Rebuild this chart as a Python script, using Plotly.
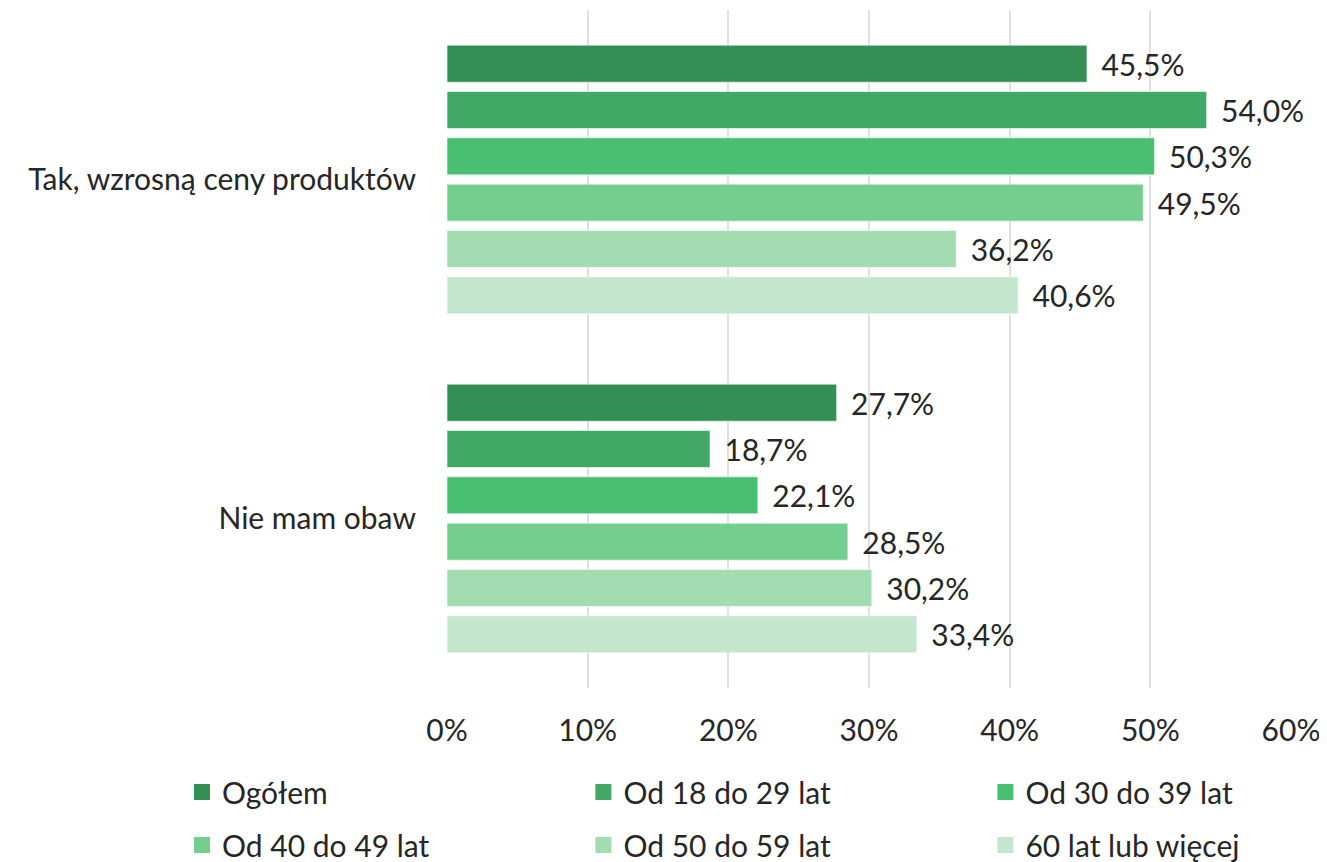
import plotly.graph_objects as go

categories = ["Tak, wzrosną ceny produktów", "Nie mam obaw"]
series_names = ["Ogółem", "Od 18 do 29 lat", "Od 30 do 39 lat",
                "Od 40 do 49 lat", "Od 50 do 59 lat", "60 lat lub więcej"]
values = [
    [45.5, 27.7],
    [54.0, 18.7],
    [50.3, 22.1],
    [49.5, 28.5],
    [36.2, 30.2],
    [40.6, 33.4],
]
colors = ["#348F55", "#41A865", "#49BF72", "#74CE8E", "#A3DCB0", "#C3E6CC"]
x_ticks = [0, 10, 20, 30, 40, 50, 60]
x_tick_labels = [f"{t}%" for t in x_ticks]

FONT = "Lato, Source Sans Pro, Noto Sans, sans-serif"
TXT = "#262626"
FS = 30
fig = go.Figure()
for i, (name, vals, col) in enumerate(zip(series_names, values, colors)):
    fig.add_trace(go.Bar(
        y=categories, x=vals, name=name, orientation="h",
        marker=dict(color=col, line=dict(color="rgba(255,255,255,0.6)", width=1)),
        texttemplate="\u00a0\u2009%{x:.1f}%", textposition="outside",
        textfont=dict(size=FS, color=TXT, family=FONT),
        cliponaxis=False, showlegend=False,
    ))

legend_names = ["legend", "legend2", "legend3", "legend4", "legend5", "legend6"]
for i, (name, col) in enumerate(zip(series_names, colors)):
    fig.add_trace(go.Scatter(
        x=[None], y=[None], mode="markers", name=name,
        marker=dict(symbol="square", size=20, color=col),
        legend=legend_names[i],
    ))

# page body has an 8px default margin; figure is sized to fit the window
col_x = [-0.314, 0.1616, 0.6379]
row_y = [-0.1534, -0.2316]
legend_layout = {}
for i, ln in enumerate(legend_names):
    legend_layout[ln] = dict(
        orientation="h", x=col_x[i % 3], xanchor="left",
        y=row_y[i // 3], yanchor="middle", itemsizing="trace",
        font=dict(size=FS, color=TXT, family=FONT), bgcolor="rgba(0,0,0,0)",
    )

fig.update_layout(
    width=1319, height=854,
    margin=dict(l=439, r=36, t=2, b=174, autoexpand=False),
    plot_bgcolor="white", paper_bgcolor="white",
    separators=", ",
    barmode="group", bargap=0.18, bargroupgap=0.2,
    font=dict(family=FONT, size=FS, color=TXT),
    xaxis=dict(range=[0, 60], tickvals=x_ticks, ticktext=x_tick_labels,
               showgrid=True, gridcolor="#E0E0E0", gridwidth=2,
               zeroline=False, showline=False, ticks="",
               ticklabelstandoff=22, tickfont=dict(size=FS, color=TXT)),
    yaxis=dict(autorange="reversed", showgrid=False, showline=False, ticks="",
               ticklabelstandoff=30, tickfont=dict(size=FS, color=TXT)),
    **legend_layout,
)
fig.write_html("out.html")
